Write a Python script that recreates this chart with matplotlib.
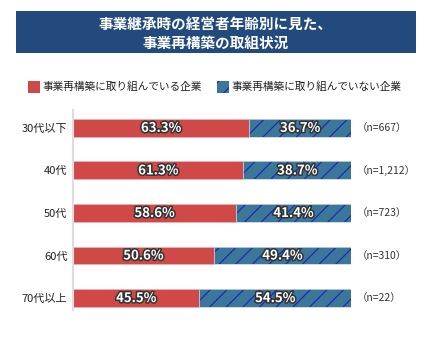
import numpy as np
import matplotlib.pyplot as plt
import matplotlib.patheffects as pe
from matplotlib.patches import Rectangle

plt.rcParams['font.family'] = ['Noto Sans CJK JP', 'DejaVu Sans']
plt.rcParams['hatch.linewidth'] = 0.8

# dati
eta = ['30代以下', '40代', '50代', '60代', '70代以上']
si = [63.3, 61.3, 58.6, 50.6, 45.5]
no = [36.7, 38.7, 41.4, 49.4, 54.5]
n_lab = ['（n=667）', '（n=1,212）', '（n=723）', '（n=310）', '（n=22）']

rosso = '#d04949'
blu = '#3a7798'
W, H = 431, 355

fig = plt.figure(figsize=(W / 100, H / 100), dpi=100)

def fx(px):
    return px / W

def fy(py):
    return 1 - py / H

# titolo
fig.patches.append(Rectangle((fx(16), fy(53)), fx(400), 42 / H, transform=fig.transFigure,
                             facecolor='#224a7d', edgecolor='none'))
fig.text(0.5, fy(24), '事業継承時の経営者年齢別に見た、', color='white', fontsize=10.5,
         ha='center', va='center', fontweight='bold')
fig.text(0.5, fy(43), '事業再構築の取組状況', color='white', fontsize=10.5,
         ha='center', va='center', fontweight='bold')

# legenda
fig.patches.append(Rectangle((fx(28), fy(93)), fx(12), 12 / H, transform=fig.transFigure,
                             facecolor=rosso, edgecolor='none'))
fig.text(fx(43), fy(87), '事業再構築に取り組んでいる企業', fontsize=7.7, va='center', color='#222222')
fig.patches.append(Rectangle((fx(217), fy(93)), fx(12), 12 / H, transform=fig.transFigure,
                             facecolor=blu, edgecolor='#2020c0', lw=0, hatch='//'))
fig.text(fx(232), fy(87), '事業再構築に取り組んでいない企業', fontsize=7.7, va='center', color='#222222')

ax = fig.add_axes([fx(73), 1 - 310 / H, 278 / W, 200 / H])
y = np.arange(len(eta))
h = 0.42

ax.barh(y, si, height=h, color=rosso, edgecolor='#f0b0b0', lw=0.6)
ax.barh(y, no, left=si, height=h, color=blu, edgecolor='#2020c0', lw=0, hatch='//')
ax.barh(y, no, left=si, height=h, color='none', edgecolor='#c8d4dc', lw=0.6)

stroke = [pe.withStroke(linewidth=2.2, foreground='#333333')]
for i in range(len(eta)):
    ax.text(si[i] / 2, y[i], f'{si[i]:.1f}%', color='white', fontsize=9.5, fontweight='bold',
            ha='center', va='center', path_effects=stroke)
    ax.text(si[i] + no[i] / 2, y[i], f'{no[i]:.1f}%', color='white', fontsize=9.5,
            fontweight='bold', ha='center', va='center', path_effects=stroke)
    ax.text(102, y[i], n_lab[i], fontsize=7.5, ha='left', va='center', color='#333333')

ax.set_xlim(0, 100)
ax.set_ylim(4.28, -0.42)
ax.set_yticks(y)
ax.set_yticklabels(eta, fontsize=8, color='#222222')
ax.tick_params(axis='y', length=0, pad=4)
ax.set_xticks([])
for s in ['top', 'right', 'bottom']:
    ax.spines[s].set_visible(False)
ax.spines['left'].set_color('#dddddd')
ax.spines['left'].set_linewidth(1.5)

fig.savefig('out.png', dpi=100)
